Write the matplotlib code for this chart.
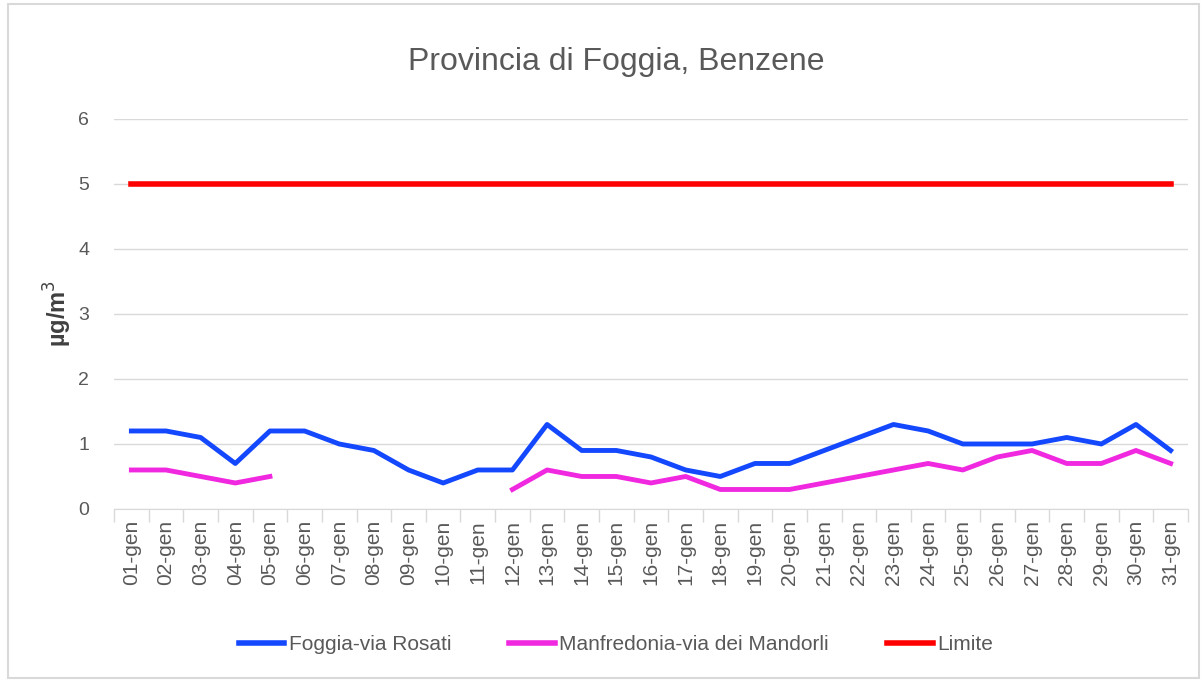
import numpy as np
import matplotlib.pyplot as plt
from matplotlib.patches import Rectangle

# data
days = ['%02d-gen' % d for d in range(1, 32)]
foggia = [1.2, 1.2, 1.1, 0.7, 1.2, 1.2, 1.0, 0.9, 0.6, 0.4, 0.6, 0.6, 1.3, 0.9, 0.9, 0.8,
          0.6, 0.5, 0.7, 0.7, 0.9, 1.1, 1.3, 1.2, 1.0, 1.0, 1.0, 1.1, 1.0, 1.3, 0.9]
manfredonia = [0.6, 0.6, 0.5, 0.4, 0.5, np.nan, np.nan, np.nan, np.nan, np.nan, np.nan,
               0.3, 0.6, 0.5, 0.5, 0.4, 0.5, 0.3, 0.3, 0.3, 0.4, 0.5, 0.6, 0.7, 0.6, 0.8,
               0.9, 0.7, 0.7, 0.9, 0.7]
limite = [5] * 31
y_ticks = [0, 1, 2, 3, 4, 5, 6]

plt.rcParams['font.family'] = ['Liberation Sans', 'DejaVu Sans']
grey = '#595959'

fig = plt.figure(figsize=(12.03, 6.81), dpi=100)
ax = fig.add_axes([0.0948, 0.2526, 0.8927, 0.5727])

x = np.arange(len(days))
ax.plot(x, foggia, color='#1448FF', lw=3.5, label='Foggia-via Rosati', zorder=3)
ax.plot(x, manfredonia, color='#F028E0', lw=3.5, label='Manfredonia-via dei Mandorli', zorder=3)
ax.plot(x, limite, color='#FF0000', lw=4, label='Limite', zorder=3)

ax.set_xlim(-0.5, len(days) - 0.5)
ax.set_ylim(0, 6)
ax.set_yticks(y_ticks)
ax.set_yticklabels([str(v) for v in y_ticks], fontsize=14, color=grey)
ax.set_xticks(x)
ax.set_xticklabels(days, rotation=90, fontsize=15, color=grey)
ax.set_xticks(np.arange(-0.5, len(days)), minor=True)
ax.tick_params(axis='x', which='major', length=0, pad=8)
ax.tick_params(axis='x', which='minor', length=9, color='#D9D9D9', width=1)
ax.tick_params(axis='y', length=0, pad=18)
ax.grid(axis='y', color='#D9D9D9', lw=1)
ax.set_axisbelow(True)
for s in ['top', 'right', 'left']:
    ax.spines[s].set_visible(False)
ax.spines['bottom'].set_color('#D9D9D9')

ax.set_ylabel('µg/m$^3$', fontsize=17, fontweight='bold', color='#404040')
ax.yaxis.set_label_coords(-0.037, 0.5)
fig.text(0.512, 0.909, 'Provincia di Foggia, Benzene', ha='center', va='center',
         fontsize=23, color=grey)

leg = fig.legend(loc='center', bbox_to_anchor=(0.512, 0.053), ncol=3, frameon=False,
                 fontsize=15, handlelength=2.2, handletextpad=0.2, columnspacing=2.8)
for t in leg.get_texts():
    t.set_color(grey)
for h in leg.get_lines():
    h.set_linewidth(4)

fig.add_artist(Rectangle((0.007, 0.004), 0.99, 0.99, transform=fig.transFigure,
                         fill=False, edgecolor='#D9D9D9', lw=1.5))

fig.savefig('out.png', dpi=100)
